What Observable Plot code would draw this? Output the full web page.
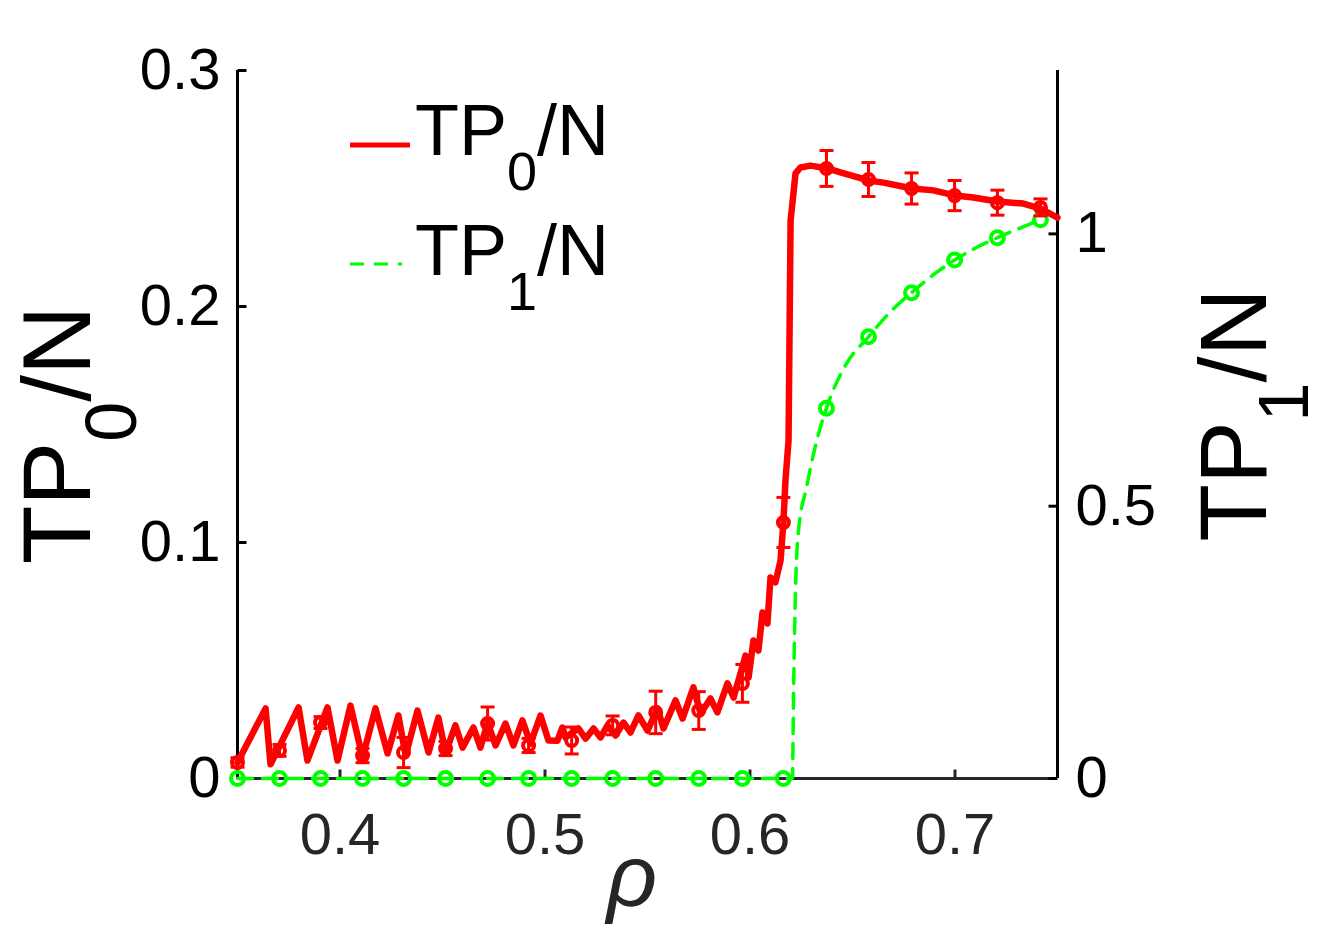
<!DOCTYPE html>
<html>
<head>
<meta charset="utf-8">
<script src="https://cdn.jsdelivr.net/npm/d3@7"></script>
<script src="https://cdn.jsdelivr.net/npm/@observablehq/plot@0.6"></script>
<style>
  body { margin: 0; background: #fff; }
  #chart svg { display: block; }
</style>
</head>
<body>
<div id="chart"></div>
<script>
// ---- TP0/N continuous curve (left axis) ----
const tp0Rho = [0.350,0.3637,0.3661,0.3798,0.3841,0.3939,0.3988,0.4051,0.4110,0.4173,0.4232,0.4285,0.4320,0.4378,0.4432,0.4480,0.4515,0.4563,0.4598,0.4651,0.4685,0.4720,0.4759,0.4807,0.4846,0.4890,0.4929,0.4978,0.5017,0.5060,0.5085,0.5100,0.5163,0.5198,0.5237,0.5271,0.5305,0.5344,0.5383,0.5417,0.5456,0.5500,0.5549,0.5578,0.5637,0.5671,0.5724,0.5759,0.5807,0.5841,0.5890,0.5920,0.5978,0.5993,0.6017,0.6041,0.6061,0.6085,0.6100,0.6124,0.6149,0.6163,0.6173,0.6188,0.6198,0.6222,0.6246,0.6295,0.6378,0.6441,0.6578,0.6651,0.6793,0.6895,0.7002,0.7090,0.7207,0.7334,0.7417,0.7500];
const tp0Val = [0.0068,0.0297,0.0060,0.0301,0.0076,0.0301,0.0076,0.0309,0.0089,0.0297,0.0106,0.0267,0.0097,0.0288,0.0110,0.0258,0.0110,0.0225,0.0131,0.0216,0.0131,0.0237,0.0140,0.0233,0.0140,0.0246,0.0148,0.0267,0.0161,0.0160,0.0216,0.0174,0.0212,0.0169,0.0212,0.0174,0.0225,0.0182,0.0237,0.0195,0.0267,0.0203,0.0297,0.0212,0.0331,0.0254,0.0386,0.0275,0.0339,0.0280,0.0403,0.0343,0.0521,0.0428,0.0585,0.0542,0.0703,0.0657,0.0852,0.0831,0.0924,0.1085,0.1263,0.1432,0.2364,0.2564,0.2589,0.2597,0.2585,0.2568,0.2534,0.2525,0.2500,0.2492,0.2470,0.2462,0.2445,0.2436,0.2415,0.2377];

// ---- TP1/N continuous curve (right axis) ----
const tp1Rho = [0.350,0.6207,0.6212,0.6222,0.6237,0.6276,0.6320,0.6373,0.6466,0.6578,0.6685,0.6788,0.6895,0.6998,0.7100,0.7207,0.7320,0.7417];
const tp1Val = [0,0,0.143,0.346,0.456,0.535,0.612,0.680,0.759,0.811,0.857,0.892,0.925,0.952,0.974,0.993,1.011,1.026];

// ---- sampled points with error bars ----
const markerRho = [0.350,0.3705,0.3905,0.411,0.431,0.4515,0.472,0.492,0.513,0.533,0.554,0.575,0.5963,0.6163,0.6373,0.6578,0.6788,0.6998,0.7207,0.7417];
const tp0Mean   = [0.0068,0.0119,0.0237,0.0097,0.0110,0.0127,0.0233,0.0140,0.0161,0.0225,0.0280,0.0288,0.0403,0.1085,0.2585,0.2538,0.2500,0.2470,0.2440,0.2420];
const tp0Err    = [0.0020,0.0025,0.0025,0.0030,0.0064,0.0030,0.0070,0.0030,0.0057,0.0040,0.0090,0.0080,0.0080,0.0106,0.0076,0.0072,0.0066,0.0064,0.0053,0.0036];
const tp1Mean   = [0,0,0,0,0,0,0,0,0,0,0,0,0,0,0.680,0.811,0.892,0.952,0.993,1.026];

// ---- ticks ----
const xTicks = [0.4,0.5,0.6,0.7];
const yLeftTicks = [0,0.1,0.2,0.3];
const yRightTicks = [0,0.5,1];

const leftMax = 0.3, rightMax = 1.3;
const K = rightMax / leftMax;

const RED = "#ff0000", GREEN = "#00ff00", AX = "#262626";

const curve0 = tp0Rho.map((r, i) => ({rho: r, v: tp0Val[i]}));
const curve1 = tp1Rho.map((r, i) => ({rho: r, v: tp1Val[i] / K}));
const pts = markerRho.map((r, i) => ({rho: r, m0: tp0Mean[i], e0: tp0Err[i], m1: tp1Mean[i] / K}));

const capSymbol = { draw(ctx, size) { const w = Math.sqrt(size / Math.PI); ctx.moveTo(-w, 0); ctx.lineTo(w, 0); } };
const tickUp = { draw(ctx, size) { const w = Math.sqrt(size / Math.PI); ctx.moveTo(0, 0); ctx.lineTo(0, -w); } };
const tickRight = { draw(ctx, size) { const w = Math.sqrt(size / Math.PI); ctx.moveTo(0, 0); ctx.lineTo(w, 0); } };
const tickLeft = { draw(ctx, size) { const w = Math.sqrt(size / Math.PI); ctx.moveTo(0, 0); ctx.lineTo(-w, 0); } };

const fmt = d => d === 0 ? "0" : (Math.abs(d - Math.round(d)) < 1e-9 ? String(Math.round(d)) : d.toFixed(1));

const chart = Plot.plot({
  width: 1326,
  height: 950,
  marginLeft: 237,
  marginRight: 269,
  marginTop: 70,
  marginBottom: 172,
  x: {domain: [0.35, 0.75]},
  y: {domain: [0, leftMax]},
  style: {fontFamily: "'Liberation Sans', Arial, Helvetica, sans-serif", background: "#fff", overflow: "visible"},
  marks: [
    // axes lines
    Plot.ruleY([0], {x1: 0.35, x2: 0.75, stroke: AX, strokeWidth: 3}),
    Plot.ruleX([0.35], {y1: 0, y2: leftMax, stroke: "#000", strokeWidth: 3}),
    Plot.ruleX([0.75], {y1: 0, y2: leftMax, stroke: "#000", strokeWidth: 3}),
    // inward ticks
    Plot.dot(xTicks, {x: d => d, y: 0, symbol: tickUp, r: 9, stroke: AX, strokeWidth: 3}),
    Plot.dot(yLeftTicks, {x: 0.35, y: d => d, symbol: tickRight, r: 9, stroke: "#000", strokeWidth: 3}),
    Plot.dot(yRightTicks, {x: 0.75, y: d => d / K, symbol: tickLeft, r: 9, stroke: "#000", strokeWidth: 3}),
    // axis labels
    Plot.axisX({ticks: xTicks, tickFormat: fmt, tickSize: 0, tickPadding: 34, fontSize: 58, fill: AX, label: null}),
    Plot.axisY({ticks: yLeftTicks, tickFormat: fmt, tickSize: 0, tickPadding: 17, fontSize: 58, fill: "#000", label: null}),
    Plot.axisY({anchor: "right", ticks: yRightTicks.map(v => v / K), tickFormat: d => fmt(Math.round(d * K * 10) / 10), tickSize: 0, tickPadding: 18, fontSize: 58, fill: "#000", label: null}),
    // TP1 dashed line + markers
    Plot.line(curve1, {x: "rho", y: "v", stroke: GREEN, strokeWidth: 3.5, strokeDasharray: "15,10", curve: "monotone-x"}),
    Plot.dot(pts, {x: "rho", y: "m1", r: 6.5, stroke: GREEN, strokeWidth: 4, fill: "none"}),
    // TP0 error bars
    Plot.ruleX(pts, {x: "rho", y1: d => d.m0 - d.e0, y2: d => d.m0 + d.e0, stroke: RED, strokeWidth: 3}),
    Plot.dot(pts, {x: "rho", y: d => d.m0 + d.e0, symbol: capSymbol, r: 7, stroke: RED, strokeWidth: 3}),
    Plot.dot(pts, {x: "rho", y: d => d.m0 - d.e0, symbol: capSymbol, r: 7, stroke: RED, strokeWidth: 3}),
    // TP0 line + markers
    Plot.line(curve0, {x: "rho", y: "v", stroke: RED, strokeWidth: 6.5, strokeLinejoin: "round", strokeLinecap: "round"}),
    Plot.dot(pts, {x: "rho", y: "m0", r: 5.5, stroke: RED, strokeWidth: 4, fill: "none"})
  ]
});

document.getElementById("chart").appendChild(chart);

// ---- legend and axis titles (real text) ----
const svg = d3.select(chart);
const FONT = "'Liberation Sans', Arial, Helvetica, sans-serif";

function subLabel(g, main, sub, tail, size, subSize, shift, anchor) {
  const t = g.append("text").attr("font-family", FONT).attr("font-size", size).attr("fill", "#000")
    .attr("text-anchor", anchor);
  t.append("tspan").text(main);
  t.append("tspan").attr("font-size", subSize).attr("dy", shift).text(sub);
  t.append("tspan").attr("dy", -shift).text(tail);
  return t;
}

// legend
const lg = svg.append("g");
lg.append("line").attr("x1", 350).attr("x2", 410).attr("y1", 145).attr("y2", 145)
  .attr("stroke", RED).attr("stroke-width", 5);
subLabel(lg.append("g").attr("transform", "translate(415,155)"), "TP", "0", "/N", 72, 54, 35, "start");
lg.append("line").attr("x1", 350).attr("x2", 402).attr("y1", 264).attr("y2", 264)
  .attr("stroke", GREEN).attr("stroke-width", 3).attr("stroke-dasharray", "14,10");
subLabel(lg.append("g").attr("transform", "translate(415,275)"), "TP", "1", "/N", 72, 54, 35, "start");

// left y title
subLabel(svg.append("g").attr("transform", "translate(90,435) rotate(-90)"), "TP", "0", "/N", 96, 72, 46, "middle");
// right y title
subLabel(svg.append("g").attr("transform", "translate(1266,415) rotate(-90)"), "TP", "1", "/N", 94, 70, 42, "middle");
// x title
svg.append("text").attr("x", 632).attr("y", 906).attr("text-anchor", "middle")
  .attr("font-family", FONT).attr("font-style", "italic").attr("font-size", 88).attr("fill", AX).text("ρ");
</script>
</body>
</html>
